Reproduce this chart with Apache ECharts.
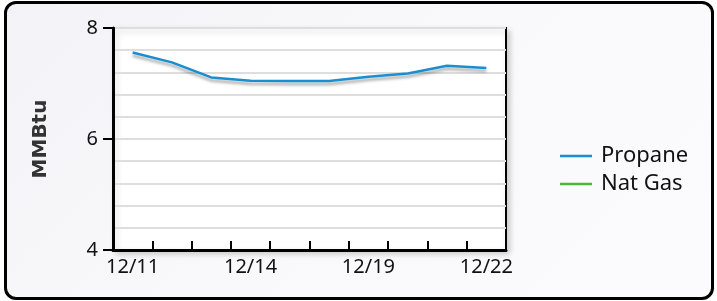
<!DOCTYPE html>
<html>
<head>
<meta charset="utf-8">
<script src="https://cdn.jsdelivr.net/npm/echarts@6/dist/echarts.min.js"></script>
<style>
html,body{margin:0;padding:0;background:#fff;}
#wrap{position:relative;width:717px;height:301px;overflow:hidden;background:#fff;}
#frame{position:absolute;left:4px;top:1px;width:704px;height:293px;border:3px solid #000;border-radius:12px;
background:linear-gradient(135deg,#f3f3f7 0%,#f9f9fc 50%,#fbfbfe 100%);}
#chart{position:absolute;left:0;top:0;width:717px;height:301px;}
</style>
</head>
<body>
<div id="wrap"><div id="frame"></div><div id="chart"></div></div>
<script>
const categories = ['12/11','12/12','12/13','12/14','12/15','12/16','12/19','12/20','12/21','12/22'];
const propane = [7.56, 7.38, 7.11, 7.05, 7.045, 7.045, 7.12, 7.18, 7.32, 7.28];
const natGas = [null, null, null, null, null, null, null, null, null, null];
const yMin = 4, yMax = 8, yStep = 2;
const seriesNames = ['Propane', 'Nat Gas'];

const chart = echarts.init(document.getElementById('chart'), null, {renderer: 'canvas'});
chart.setOption({
  backgroundColor: 'transparent',
  animation: false,
  grid: {
    left: 113, top: 28, right: 211, bottom: 51,
    show: true, backgroundColor: '#ffffff', borderColor: '#000', borderWidth: 2,
    shadowColor: 'rgba(0,0,0,0.18)', shadowBlur: 6, shadowOffsetX: 3, shadowOffsetY: 3
  },
  legend: {
    orient: 'vertical', left: 555, top: 139,
    itemWidth: 32, itemHeight: 14, itemGap: 4,
    icon: 'path://M0,6 L32,6 L32,8.5 L0,8.5 Z',
    textStyle: {fontFamily: 'Noto Sans', fontSize: 22, color: '#111', lineHeight: 24, padding: [0,0,0,4]},
    data: seriesNames
  },
  xAxis: {
    type: 'category', data: categories, boundaryGap: true,
    axisLine: {show: true, lineStyle: {color: '#000', width: 3}},
    axisTick: {show: true, inside: true, length: 9, interval: 0, lineStyle: {color: '#000', width: 2}},
    axisLabel: {interval: 2, margin: 7, fontFamily: 'Noto Sans', fontSize: 20, color: '#111'},
    splitLine: {show: false}
  },
  yAxis: {
    type: 'value', min: yMin, max: yMax, interval: yStep,
    name: 'MMBtu', nameLocation: 'middle', nameGap: 62, nameRotate: 90,
    nameTextStyle: {fontFamily: 'DejaVu Sans', fontWeight: 'bold', fontSize: 20, color: '#333'},
    axisLine: {show: true, lineStyle: {color: '#000', width: 3}},
    axisTick: {show: true, inside: false, length: 10, lineStyle: {color: '#000', width: 2}},
    axisLabel: {margin: 15, fontFamily: 'Noto Sans', fontSize: 20, color: '#111'},
    splitLine: {show: true, lineStyle: {color: '#dedede', width: 2}},
    minorTick: {show: false, splitNumber: 5},
    minorSplitLine: {show: true, lineStyle: {color: '#dedede', width: 2}}
  },
  series: [
    {
      name: seriesNames[0], type: 'line', data: propane, symbol: 'none', showSymbol: false,
      color: '#1a8fcf',
      lineStyle: {width: 2.5, color: '#1a8fcf', shadowColor: 'rgba(0,0,0,0.35)', shadowBlur: 3, shadowOffsetY: 3}
    },
    {
      name: seriesNames[1], type: 'line', data: natGas, symbol: 'none', showSymbol: false,
      color: '#4cb832',
      lineStyle: {width: 2.5, color: '#4cb832'}
    }
  ]
});
</script>
</body>
</html>
